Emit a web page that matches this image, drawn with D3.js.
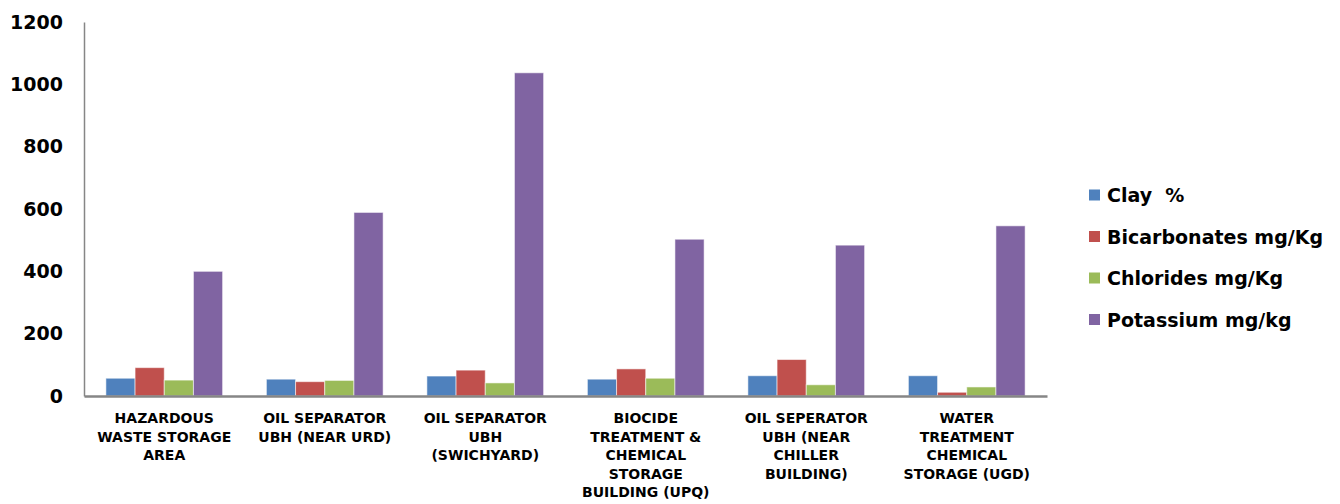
<!DOCTYPE html>
<html>
<head>
<meta charset="utf-8">
<script src="https://cdn.jsdelivr.net/npm/d3@7"></script>
<style>
  html, body { margin: 0; padding: 0; background: #fff; }
  svg { display: block; }
  text { font-family: "DejaVu Sans", Verdana, sans-serif; font-weight: bold; fill: #000; }
</style>
</head>
<body>
<svg id="chart" width="1340" height="504"></svg>
<script>
// Sampling locations (label lines as printed under each group)
const categories = [
  ["HAZARDOUS", "WASTE STORAGE", "AREA"],
  ["OIL SEPARATOR", "UBH (NEAR URD)"],
  ["OIL SEPARATOR", "UBH", "(SWICHYARD)"],
  ["BIOCIDE", "TREATMENT &", "CHEMICAL", "STORAGE", "BUILDING (UPQ)"],
  ["OIL SEPERATOR", "UBH (NEAR", "CHILLER", "BUILDING)"],
  ["WATER", "TREATMENT", "CHEMICAL", "STORAGE (UGD)"]
];

const seriesNames = ["Clay  %", "Bicarbonates mg/Kg", "Chlorides mg/Kg", "Potassium mg/kg"];
const seriesColors = ["#4F81BD", "#C0504D", "#9BBB59", "#8064A2"];

const clay        = [57, 54, 64, 54, 65, 65];
const bicarbonate = [91, 46, 83, 87, 117, 12];
const chlorides   = [51, 50, 42, 57, 36, 29];
const potassium   = [400, 589, 1037, 503, 484, 546];

const yTicks = [0, 200, 400, 600, 800, 1000, 1200];

const series = [clay, bicarbonate, chlorides, potassium];

const svg = d3.select("#chart");

const plot = { left: 84, right: 1047, top: 22, bottom: 396 };

const x0 = d3.scaleBand()
  .domain(d3.range(categories.length))
  .range([plot.left, plot.right])
  .paddingInner(0)
  .paddingOuter(0);

// 4 bars per group with a gap of 1.5 bar widths between groups
const barW = x0.bandwidth() / (series.length + 1.5);
const x1 = d3.scaleBand()
  .domain(d3.range(series.length))
  .range([0.75 * barW, 0.75 * barW + series.length * barW]);

const y = d3.scaleLinear().domain([0, 1200]).range([plot.bottom, plot.top]);

// Bars
const groups = svg.append("g").selectAll("g")
  .data(categories)
  .join("g")
  .attr("transform", (d, i) => `translate(${x0(i)},0)`);

groups.selectAll("rect")
  .data((d, i) => series.map((s, k) => ({ k, v: s[i] })))
  .join("rect")
  .attr("x", d => x1(d.k))
  .attr("width", x1.bandwidth())
  .attr("y", d => y(d.v))
  .attr("height", d => y(0) - y(d.v))
  .attr("fill", d => seriesColors[d.k])
  .attr("stroke", "#ffffff")
  .attr("stroke-opacity", 0.55)
  .attr("stroke-width", 1);

// Y axis
const yAxis = d3.axisLeft(y).tickValues(yTicks).tickFormat(d3.format("d")).tickSize(0).tickPadding(21);
const gy = svg.append("g")
  .attr("transform", `translate(${plot.left},0)`)
  .call(yAxis);
gy.select(".domain").attr("stroke", "#868686").attr("stroke-width", 1.5);
gy.selectAll("text")
  .style("font-size", "19px")
  .style("font-family", "'DejaVu Sans', Verdana, sans-serif")
  .style("font-weight", "bold")
  .attr("fill", "#000");

// X axis baseline
const xAxis = d3.axisBottom(x0).tickSize(0).tickFormat("");
const gx = svg.append("g")
  .attr("transform", `translate(0,${plot.bottom})`)
  .call(xAxis);
gx.select(".domain").attr("stroke", "#868686").attr("stroke-width", 2.5);

// Category labels (multi-line)
const lab = svg.append("g").selectAll("text")
  .data(categories)
  .join("text")
  .attr("text-anchor", "middle")
  .style("font-size", "14px")
  .attr("transform", (d, i) => `translate(${x0(i) + x0.bandwidth() / 2},423)`);
lab.selectAll("tspan")
  .data(d => d)
  .join("tspan")
  .attr("x", 0)
  .attr("dy", (d, j) => j === 0 ? 0 : 18.6)
  .text(d => d);

// Legend
const leg = svg.append("g").attr("transform", "translate(1089,195)");
const items = leg.selectAll("g")
  .data(seriesNames)
  .join("g")
  .attr("transform", (d, i) => `translate(0,${i * 41.5})`);
items.append("rect")
  .attr("x", 0).attr("y", -5.5)
  .attr("width", 11).attr("height", 11)
  .attr("fill", (d, i) => seriesColors[i]);
items.append("text")
  .attr("x", 18)
  .attr("y", 7)
  .style("font-size", "19px")
  .style("white-space", "pre")
  .attr("xml:space", "preserve")
  .text(d => d);
</script>
</body>
</html>
